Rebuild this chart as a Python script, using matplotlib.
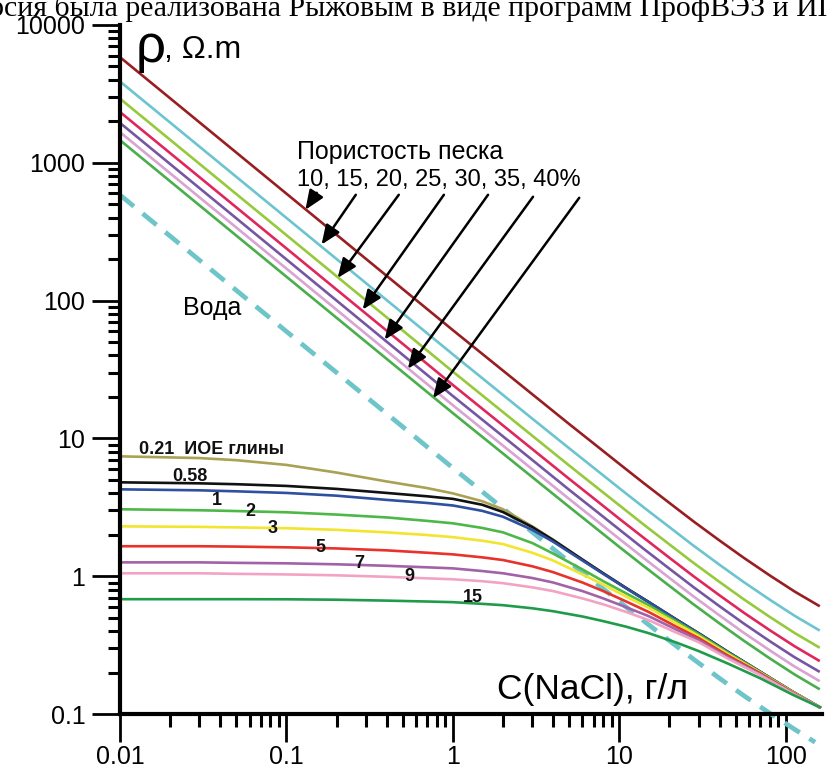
import matplotlib
matplotlib.use('Agg')
import matplotlib.pyplot as plt
from matplotlib.ticker import FixedLocator, LogLocator, NullFormatter, FuncFormatter

plt.rcParams['font.family'] = ['Liberation Sans', 'DejaVu Sans']

# концентрация NaCl, г/л -> сопротивление, Ом.м
conc_sand = [0.01, 0.1, 1, 3, 5, 7, 10, 14, 20, 28, 40, 56, 80, 113, 160]
rho_sand10 = [5840, 597, 61, 20.9, 12.7, 9.2, 6.53, 4.74, 3.40, 2.49, 1.815, 1.358, 1.014, 0.774, 0.605]
rho_sand15 = [3893, 398, 40.7, 13.9, 8.47, 6.13, 4.35, 3.16, 2.27, 1.66, 1.21, 0.905, 0.676, 0.516, 0.403]
rho_sand20 = [2920, 298.5, 30.5, 10.45, 6.35, 4.6, 3.27, 2.37, 1.70, 1.245, 0.908, 0.679, 0.507, 0.387, 0.3025]
rho_sand25 = [2336, 239, 24.4, 8.36, 5.08, 3.68, 2.61, 1.90, 1.36, 0.996, 0.726, 0.543, 0.406, 0.310, 0.242]
rho_sand30 = [1947, 199, 20.3, 6.97, 4.23, 3.07, 2.18, 1.58, 1.133, 0.83, 0.605, 0.453, 0.338, 0.258, 0.202]
rho_sand35 = [1669, 170.6, 17.4, 5.97, 3.63, 2.63, 1.866, 1.354, 0.971, 0.711, 0.519, 0.388, 0.290, 0.221, 0.173]
rho_sand40 = [1460, 149, 15.25, 5.23, 3.18, 2.30, 1.63, 1.185, 0.85, 0.623, 0.454, 0.340, 0.2535, 0.1935, 0.151]
sand_colors = ['#981e22', '#6cc4cf', '#97c93c', '#e0265c', '#7656a3', '#d9a3d3', '#4aae4c']

conc_water = [0.01, 0.1, 1, 3, 5, 7, 10, 14, 20, 28, 40, 56, 80, 113, 150]
rho_water = [584, 59.7, 6.1, 2.09, 1.27, 0.92, 0.653, 0.474, 0.34, 0.249, 0.1815, 0.1358, 0.1014, 0.0774, 0.0624]

conc_clay = [0.01, 0.03, 0.05, 0.1, 0.2, 0.4, 0.7, 1, 1.5, 2, 3, 4, 6, 8, 11, 15, 22, 30, 45, 70, 110, 160]
rho_clay021 = [7.41, 7.2, 6.95, 6.42, 5.65, 4.87, 4.36, 3.99, 3.5, 3.06, 2.30, 1.84, 1.32, 1.05, 0.82, 0.65,
               0.485, 0.385, 0.282, 0.203, 0.145, 0.112]
rho_clay058 = [4.80, 4.72, 4.65, 4.52, 4.3, 4.02, 3.8, 3.64, 3.3, 2.92, 2.27, 1.83, 1.32, 1.05, 0.82, 0.65,
               0.485, 0.385, 0.282, 0.203, 0.145, 0.112]
rho_clay1 = [4.27, 4.2, 4.13, 4.02, 3.84, 3.58, 3.4, 3.26, 2.98, 2.7, 2.17, 1.78, 1.3, 1.04, 0.815, 0.648,
             0.484, 0.384, 0.281, 0.203, 0.145, 0.112]
rho_clay2 = [3.06, 3.01, 2.97, 2.91, 2.8, 2.67, 2.52, 2.42, 2.24, 2.08, 1.74, 1.46, 1.12, 0.92, 0.75, 0.616,
             0.47, 0.378, 0.278, 0.202, 0.145, 0.112]
rho_clay3 = [2.30, 2.28, 2.26, 2.23, 2.17, 2.08, 1.99, 1.92, 1.81, 1.71, 1.48, 1.30, 1.03, 0.87, 0.71, 0.59,
             0.455, 0.368, 0.272, 0.2, 0.144, 0.112]
rho_clay5 = [1.65, 1.65, 1.64, 1.62, 1.59, 1.54, 1.48, 1.44, 1.37, 1.31, 1.18, 1.07, 0.9, 0.78, 0.655, 0.55,
             0.43, 0.355, 0.265, 0.198, 0.143, 0.112]
rho_clay7 = [1.26, 1.26, 1.25, 1.24, 1.22, 1.19, 1.16, 1.14, 1.09, 1.05, 0.97, 0.9, 0.78, 0.69, 0.595, 0.513,
             0.41, 0.344, 0.258, 0.195, 0.142, 0.112]
rho_clay9 = [1.05, 1.05, 1.04, 1.03, 1.015, 0.99, 0.965, 0.95, 0.92, 0.89, 0.83, 0.78, 0.69, 0.625, 0.55, 0.48,
             0.39, 0.332, 0.252, 0.192, 0.141, 0.112]
rho_clay15 = [0.681, 0.681, 0.681, 0.68, 0.675, 0.665, 0.655, 0.648, 0.63, 0.616, 0.585, 0.557, 0.51, 0.472,
              0.43, 0.386, 0.33, 0.286, 0.232, 0.182, 0.138, 0.112]
clay_colors = ['#aaa152', '#111111', '#2f4f9f', '#4db748', '#f2e52e', '#e8322b', '#a162a8', '#f2a3c3', '#1f9c4a']
clay_labels = ['0.21  ИОЕ глины', '0.58', '1', '2', '3', '5', '7', '9', '15']
clay_label_x = [0.0130, 0.0264, 0.0384, 0.0607, 0.0824, 0.160, 0.272, 0.551, 1.32]
clay_label_y = [8.3, 5.3, 3.55, 2.96, 2.23, 1.62, 1.24, 1.0, 0.705]

# стрелки: остриё на линии и начало под подписью
arrow_tip_x = [0.130, 0.1625, 0.203, 0.287, 0.389, 0.536, 0.759]
arrow_tip_y = [456, 255, 146, 86, 52, 32, 19.6]
arrow_tail_x = [0.152, 0.261, 0.473, 0.883, 1.626, 3.03, 5.74]
arrow_tail_y = [606, 586, 586, 586, 586, 567, 557]

W, H = 827, 770
fig = plt.figure(figsize=(W / 100, H / 100), dpi=100)
ax = fig.add_axes([120 / W, 56 / H, 702 / W, 689 / H])
ax.set_xscale('log')
ax.set_yscale('log')
ax.set_xlim(0.01, 165)
ax.set_ylim(0.1, 10000)

sand_series = [rho_sand10, rho_sand15, rho_sand20, rho_sand25, rho_sand30, rho_sand35, rho_sand40]
for rho, c in zip(sand_series, sand_colors):
    ax.plot(conc_sand, rho, color=c, lw=1.9, solid_capstyle='butt')

ax.plot(conc_water, rho_water, color='#6ec5c9', lw=3.4, dashes=(3.8, 2.4), clip_on=False)

clay_series = [rho_clay021, rho_clay058, rho_clay1, rho_clay2, rho_clay3,
               rho_clay5, rho_clay7, rho_clay9, rho_clay15]
for rho, c in zip(clay_series, clay_colors):
    ax.plot(conc_clay, rho, color=c, lw=1.9, solid_joinstyle='round')

for i, lab in enumerate(clay_labels):
    ha = 'left' if i == 0 else 'center'
    ax.text(clay_label_x[i], clay_label_y[i], lab, fontsize=13, fontweight='bold',
            ha=ha, va='center', color='#111111')

for tx, ty, sx, sy in zip(arrow_tip_x, arrow_tip_y, arrow_tail_x, arrow_tail_y):
    ax.annotate('', xy=(tx, ty), xytext=(sx, sy),
                arrowprops=dict(arrowstyle='-|>,head_length=0.65,head_width=0.27',
                                mutation_scale=18, color='black', lw=1.8,
                                shrinkA=0, shrinkB=0))

ax.text(0.1164, 1202, 'Пористость песка', fontsize=18, ha='left', va='center')
ax.text(0.1164, 753, '10, 15, 20, 25, 30, 35, 40%', fontsize=17, ha='left', va='center')
ax.text(0.0358, 89, 'Вода', fontsize=18, ha='center', va='center')

# оси
for s in ['top', 'right']:
    ax.spines[s].set_visible(False)
for s in ['left', 'bottom']:
    ax.spines[s].set_linewidth(3)

ax.xaxis.set_major_locator(FixedLocator([0.01, 0.1, 1, 10, 100]))
ax.yaxis.set_major_locator(FixedLocator([0.1, 1, 10, 100, 1000, 10000]))
ax.xaxis.set_minor_locator(LogLocator(base=10, subs=range(2, 10), numticks=20))
ax.yaxis.set_minor_locator(LogLocator(base=10, subs=range(2, 10), numticks=20))
fmt = FuncFormatter(lambda v, p: '%g' % v)
ax.xaxis.set_major_formatter(fmt)
ax.yaxis.set_major_formatter(fmt)
ax.xaxis.set_minor_formatter(NullFormatter())
ax.yaxis.set_minor_formatter(NullFormatter())
ax.tick_params(which='major', direction='out', length=20, width=2, labelsize=18, pad=5)
ax.tick_params(axis='x', which='major', pad=2)
ax.tick_params(which='minor', direction='out', length=9, width=2.2)

fig.text(497 / W, 1 - 699 / H, 'C(NaCl), г/л', fontsize=25.5, ha='left', va='baseline')
fig.text(136 / W, 1 - 62 / H, 'ρ', fontsize=38, ha='left', va='baseline')
fig.text(164 / W, 1 - 58 / H, ', Ω.m', fontsize=23, ha='left', va='baseline')

fig.text(-38 / W, 1 - 16 / H, 'версия была реализована Рыжовым в виде программ ПрофВЭЗ и ИПИ',
         fontsize=21.5, family=['Liberation Serif', 'DejaVu Serif'], ha='left', va='baseline')

fig.savefig('out.png', dpi=100)
